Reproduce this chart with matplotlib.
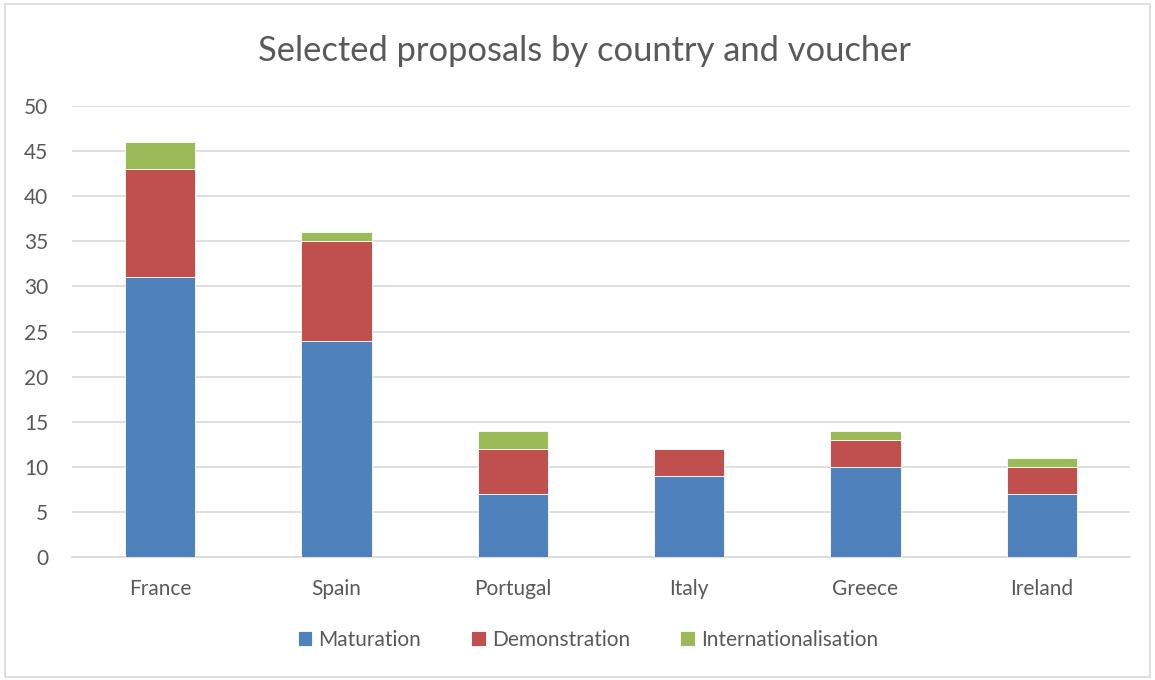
import numpy as np
import matplotlib.pyplot as plt
from matplotlib.patches import Rectangle

countries = ["France", "Spain", "Portugal", "Italy", "Greece", "Ireland"]
maturation = [31, 24, 7, 9, 10, 7]
demonstration = [12, 11, 5, 3, 3, 3]
internationalisation = [3, 1, 2, 0, 1, 1]

series_names = ["Maturation", "Demonstration", "Internationalisation"]
colors = ["#4F81BD", "#C0504D", "#9BBB59"]
text_color = "#595959"

plt.rcParams['font.family'] = ['Lato', 'DejaVu Sans']

fig = plt.figure(figsize=(11.55, 6.8), dpi=100)
ax = fig.add_axes([72 / 1155, 1 - 557 / 680, 1058 / 1155, 451 / 680])

x = np.arange(len(countries))
bottom = np.zeros(len(countries))
for vals, name, col in zip([maturation, demonstration, internationalisation], series_names, colors):
    vals = np.array(vals, dtype=float)
    ax.bar(x, vals, width=0.4, bottom=bottom, color=col, edgecolor="white",
           linewidth=0.6, label=name, zorder=3)
    bottom += vals

ax.set_xlim(-0.5, len(countries) - 0.5)
ax.set_ylim(0, 50)
ax.set_yticks(range(0, 51, 5))
ax.set_xticks(x)
ax.set_xticklabels(countries)
ax.tick_params(axis="both", length=0, labelsize=15, colors=text_color)
ax.tick_params(axis="x", pad=16)
ax.tick_params(axis="y", pad=17)
for lab in ax.get_yticklabels():
    lab.set_horizontalalignment("right")

ax.grid(axis="y", color="#D9D9D9", linewidth=1.2, zorder=0)
for side in ["top", "right", "left"]:
    ax.spines[side].set_visible(False)
ax.spines["bottom"].set_color("#D9D9D9")
ax.spines["bottom"].set_linewidth(1.2)

fig.text(0.506, 1 - 51 / 680, "Selected proposals by country and voucher",
         ha="center", va="center", fontsize=24.8, color=text_color)

fig.legend(loc="center", bbox_to_anchor=(0.509, 1 - 640 / 680), ncol=3,
           frameon=False, fontsize=15, labelcolor=text_color,
           handlelength=0.7, handleheight=0.7, handletextpad=0.3,
           columnspacing=2.4)

# light frame round the whole chart
fig.patches.append(Rectangle((0.004, 0.004), 0.992, 0.99, transform=fig.transFigure,
                             fill=False, edgecolor="#D9D9D9", linewidth=1.2))

fig.savefig("out.png", dpi=100)
